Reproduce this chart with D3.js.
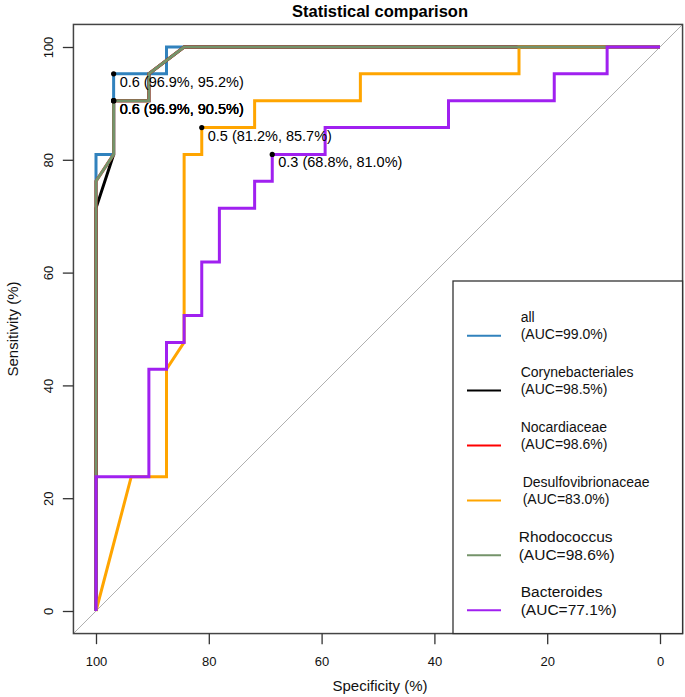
<!DOCTYPE html>
<html>
<head>
<meta charset="utf-8">
<script src="https://cdn.jsdelivr.net/npm/d3@7"></script>
<style>
  html, body { margin: 0; padding: 0; background: #fff; }
  svg { display: block; font-family: "Liberation Sans", Arial, Helvetica, sans-serif; }
</style>
</head>
<body>
<svg id="chart" width="685" height="697"></svg>
<script>
// ---------------- DATA ----------------
const seriesNames = ["all", "Corynebacteriales", "Nocardiaceae", "Desulfovibrionaceae", "Rhodococcus", "Bacteroides"];
const seriesAUC   = ["(AUC=99.0%)", "(AUC=98.5%)", "(AUC=98.6%)", "(AUC=83.0%)", "(AUC=98.6%)", "(AUC=77.1%)"];
const seriesColors = ["#3182bd", "#000000", "#ff0000", "#ffa500", "#74936a", "#a020f0"];

// specificity (%) / sensitivity (%) of each ROC curve
const allSpec = [100, 100, 96.875, 96.875, 87.5, 87.5, 0];
const allSens = [0, 80.95, 80.95, 95.24, 95.24, 100, 100];

const coryneSpec = [100, 100, 96.875, 96.875, 90.625, 90.625, 84.375, 0];
const coryneSens = [0, 71.43, 80.95, 90.48, 90.48, 95.24, 100, 100];

const nocardSpec = [100, 100, 96.875, 96.875, 90.625, 90.625, 84.375, 0];
const nocardSens = [0, 76.19, 80.95, 90.48, 90.48, 95.24, 100, 100];

const desulfoSpec = [100, 93.75, 87.5, 87.5, 84.375, 84.375, 81.25, 81.25, 71.875, 71.875, 53.125, 53.125, 25, 25, 0];
const desulfoSens = [0, 23.81, 23.81, 42.86, 47.62, 80.95, 80.95, 85.71, 85.71, 90.48, 90.48, 95.24, 95.24, 100, 100];

const rhodoSpec = [100, 100, 96.875, 96.875, 90.625, 90.625, 84.375, 0];
const rhodoSens = [0, 76.19, 80.95, 90.48, 90.48, 95.24, 100, 100];

const bactSpec = [100, 100, 90.625, 90.625, 87.5, 87.5, 84.375, 84.375, 81.25, 81.25, 78.125, 78.125, 71.875, 71.875, 68.75, 68.75, 59.375, 59.375, 37.5, 37.5, 18.75, 18.75, 9.375, 9.375, 0];
const bactSens = [0, 23.81, 23.81, 42.86, 42.86, 47.62, 47.62, 52.38, 52.38, 61.90, 61.90, 71.43, 71.43, 76.19, 76.19, 80.95, 80.95, 85.71, 85.71, 90.48, 90.48, 95.24, 95.24, 100, 100];

const specList = [allSpec, coryneSpec, nocardSpec, desulfoSpec, rhodoSpec, bactSpec];
const sensList = [allSens, coryneSens, nocardSens, desulfoSens, rhodoSens, bactSens];

// best-threshold points
const thrSpec  = [96.875, 96.875, 96.875, 96.875, 81.25, 68.75];
const thrSens  = [95.24, 90.48, 90.48, 90.48, 85.71, 80.95];
const thrLabel = ["0.6 (96.9%, 95.2%)", "0.6 (96.9%, 90.5%)", "0.6 (96.9%, 90.5%)", "0.6 (96.9%, 90.5%)", "0.5 (81.2%, 85.7%)", "0.3 (68.8%, 81.0%)"];

const tickValues = [100, 80, 60, 40, 20, 0];
const titleText = "Statistical comparison";
const xLabel = "Specificity (%)";
const yLabel = "Sensitivity (%)";

// ---------------- DRAW ----------------
const svg = d3.select("#chart");
const x = d3.scaleLinear().domain([100, 0]).range([96, 660]);
const y = d3.scaleLinear().domain([0, 100]).range([611, 47]);

const boxL = x(104), boxR = x(-4), boxT = y(104), boxB = y(-4);

svg.append("defs").append("clipPath").attr("id", "clip")
  .append("rect").attr("x", boxL).attr("y", boxT).attr("width", boxR - boxL).attr("height", boxB - boxT);

// identity line
svg.append("line")
  .attr("clip-path", "url(#clip)")
  .attr("x1", x(104)).attr("y1", y(-4)).attr("x2", x(-4)).attr("y2", y(104))
  .attr("stroke", "#b0b0b0").attr("stroke-width", 1);

// curves
const line = d3.line().x(d => x(d[0])).y(d => y(d[1]));
specList.forEach((sp, i) => {
  const pts = sp.map((s, j) => [s, sensList[i][j]]);
  svg.append("path")
    .datum(pts)
    .attr("d", line)
    .attr("fill", "none")
    .attr("stroke", seriesColors[i])
    .attr("stroke-width", 3)
    .attr("stroke-linejoin", "miter");
});

// threshold points and labels
thrSpec.forEach((s, i) => {
  svg.append("circle").attr("cx", x(s)).attr("cy", y(thrSens[i])).attr("r", 2.6).attr("fill", "#000");
  svg.append("text")
    .attr("x", x(s) + 6).attr("y", y(thrSens[i]) + 13)
    .attr("font-size", 14.5).attr("fill", "#000")
    .text(thrLabel[i]);
});

// box
svg.append("rect")
  .attr("x", boxL).attr("y", boxT).attr("width", boxR - boxL).attr("height", boxB - boxT)
  .attr("fill", "none").attr("stroke", "#444").attr("stroke-width", 1.5);

// x axis
const gx = svg.append("g").attr("transform", `translate(0,${boxB})`)
  .call(d3.axisBottom(x).tickValues(tickValues).tickSize(10.6).tickFormat(d3.format("d")));
gx.select(".domain").remove();
gx.selectAll(".tick line").attr("stroke", "#333").attr("stroke-width", 1.3);
gx.selectAll(".tick text").attr("y", 32).attr("dy", 0).attr("font-size", 13)
  .attr("font-family", "Liberation Sans, Arial, sans-serif").attr("fill", "#111");

// y axis
const gy = svg.append("g").attr("transform", `translate(${boxL},0)`)
  .call(d3.axisLeft(y).tickValues(tickValues).tickSize(10.6).tickFormat(d3.format("d")));
gy.select(".domain").remove();
gy.selectAll(".tick line").attr("stroke", "#333").attr("stroke-width", 1.3);
gy.selectAll(".tick text")
  .attr("x", 0).attr("dy", 0).attr("y", 0)
  .attr("text-anchor", "middle")
  .attr("transform", "translate(-20,0) rotate(-90)")
  .attr("font-size", 13)
  .attr("font-family", "Liberation Sans, Arial, sans-serif").attr("fill", "#111");

// titles
svg.append("text").attr("x", 380).attr("y", 17).attr("text-anchor", "middle")
  .attr("font-size", 16.5).attr("font-weight", "bold").attr("fill", "#000").text(titleText);
svg.append("text").attr("x", 380).attr("y", 691).attr("text-anchor", "middle")
  .attr("font-size", 15).attr("fill", "#111").text(xLabel);
svg.append("text").attr("transform", `translate(18,${(boxT + boxB) / 2}) rotate(-90)`)
  .attr("text-anchor", "middle").attr("font-size", 15).attr("fill", "#111").text(yLabel);

// legend
const legX = 453, legY = 281;
svg.append("rect").attr("x", legX).attr("y", legY).attr("width", boxR - legX).attr("height", boxB - legY)
  .attr("fill", "#fff").attr("stroke", "#333").attr("stroke-width", 1.3);
const legTextX = [520.7, 520.7, 520.7, 522.7, 518.7, 520.7];
const legSize = [14, 14, 14, 14, 15.5, 15.5];
seriesNames.forEach((name, i) => {
  const ly = 335.7 + i * 54.9;
  svg.append("line").attr("x1", 467).attr("x2", 501).attr("y1", ly).attr("y2", ly)
    .attr("stroke", seriesColors[i]).attr("stroke-width", 2);
  svg.append("text").attr("x", legTextX[i]).attr("y", ly - 13.5)
    .attr("font-size", legSize[i]).attr("fill", "#111").text(name);
  svg.append("text").attr("x", legTextX[i]).attr("y", ly + 3.5 + (legSize[i] > 14 ? 1 : 0))
    .attr("font-size", legSize[i]).attr("fill", "#111").text(seriesAUC[i]);
});
</script>
</body>
</html>
